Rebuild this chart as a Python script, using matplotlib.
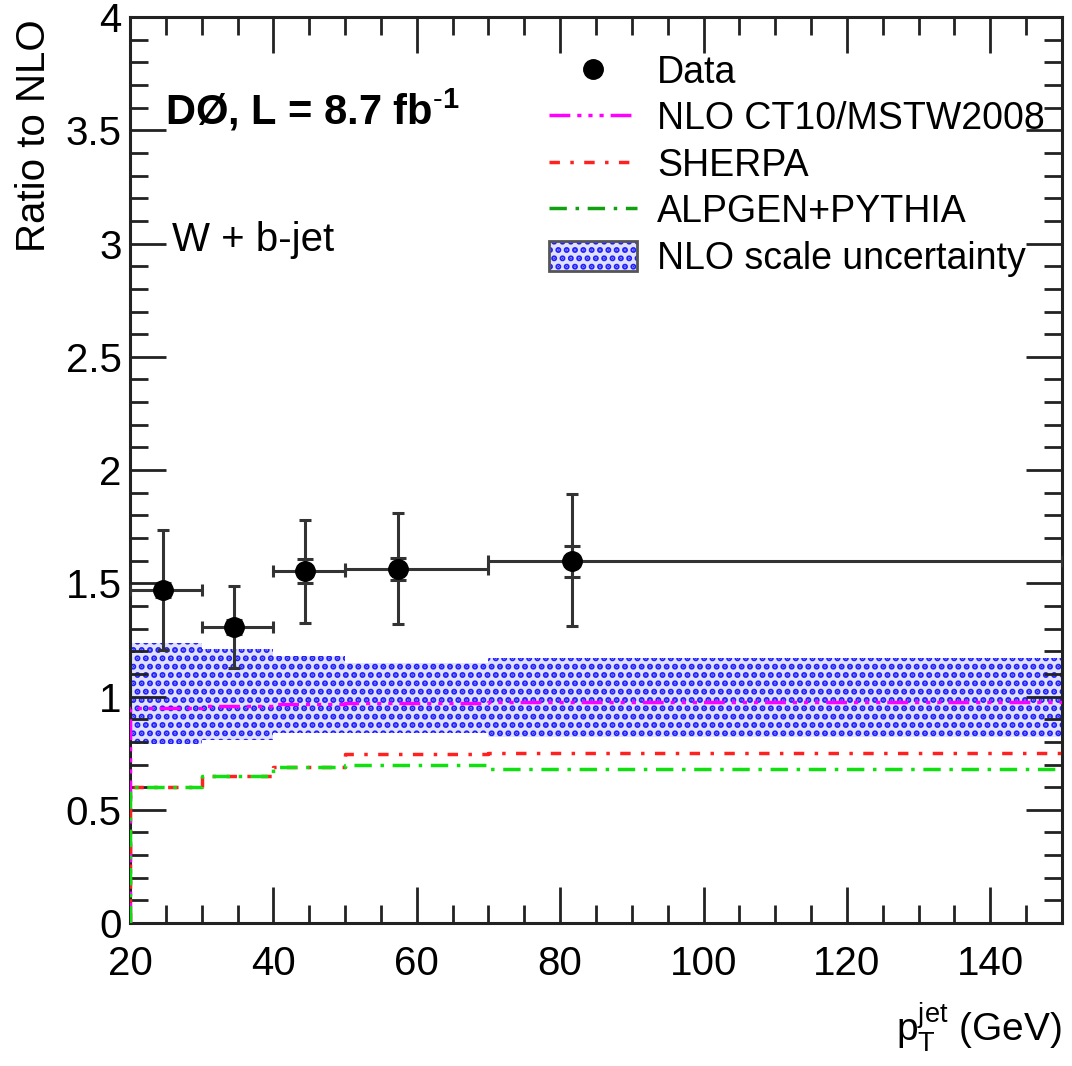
import numpy as np
import matplotlib.pyplot as plt
from matplotlib.lines import Line2D
from matplotlib.patches import Patch
from matplotlib.legend_handler import HandlerTuple
from matplotlib.ticker import MultipleLocator

plt.rcParams['font.family'] = ['Liberation Sans', 'DejaVu Sans']
plt.rcParams['mathtext.fontset'] = 'custom'
plt.rcParams['mathtext.rm'] = 'Liberation Sans'
plt.rcParams['mathtext.it'] = 'Liberation Sans:italic'
plt.rcParams['mathtext.bf'] = 'Liberation Sans:bold'
plt.rcParams['hatch.linewidth'] = 3.0

# bin edges in pT (GeV)
bin_edges = [20, 30, 40, 50, 70, 150]

# data points
data_x = [24.6, 34.5, 44.4, 57.4, 81.6]
data_y = [1.47, 1.307, 1.555, 1.563, 1.598]
data_up = [1.735, 1.49, 1.78, 1.81, 1.894]
data_dn = [1.205, 1.125, 1.325, 1.32, 1.31]
data_stat = [0.03, 0.03, 0.053, 0.05, 0.068]

# theory curves (per bin)
nlo = [0.95, 0.96, 0.965, 0.97, 0.975]
sherpa = [0.60, 0.65, 0.69, 0.745, 0.75]
alpgen = [0.60, 0.65, 0.69, 0.70, 0.68]
band_lo = [0.79, 0.81, 0.84, 0.84, 0.82]
band_hi = [1.236, 1.21, 1.18, 1.15, 1.17]


def step_xy(edges, vals):
    # ROOT-like histogram outline starting from zero at the first edge
    xs = [edges[0]]
    ys = [0.0]
    for i, v in enumerate(vals):
        xs += [edges[i], edges[i + 1]]
        ys += [v, v]
    return xs, ys


band_face = '#e0e0ff'
band_dots = '#1e1eff'

fig = plt.figure(figsize=(10.72, 10.66), dpi=100)
ax = fig.add_axes([0.1213, 0.1341, 0.8694, 0.8499])

# NLO scale uncertainty band
for i in range(len(band_lo)):
    ax.fill_between([bin_edges[i], bin_edges[i + 1]], band_lo[i], band_hi[i],
                    facecolor=band_face, edgecolor=band_dots, hatch='..',
                    linewidth=0, zorder=1)

nlo_dash = (0, (6, 2, 1.2, 2, 1.2, 2, 1.2, 2))
sherpa_dash = (0, (3, 3, 1, 3))
alpgen_dash = (0, (5, 2.5, 1, 2.5))

xs, ys = step_xy(bin_edges, nlo)
ax.plot(xs, ys, color='#ff00ff', lw=2.5, linestyle=nlo_dash, zorder=3)
xs, ys = step_xy(bin_edges, sherpa)
ax.plot(xs, ys, color='#ff2020', lw=2.5, linestyle=sherpa_dash, zorder=3)
xs, ys = step_xy(bin_edges, alpgen)
ax.plot(xs, ys, color='#10e010', lw=2.5, linestyle=alpgen_dash, zorder=3)

# data with total and stat errors
xlo = np.array(data_x) - np.array(bin_edges[:-1])
xhi = np.array(bin_edges[1:]) - np.array(data_x)
yerr = [np.array(data_y) - np.array(data_dn), np.array(data_up) - np.array(data_y)]
ax.errorbar(data_x, data_y, xerr=[xlo, xhi], yerr=yerr, fmt='o', color='black',
            ecolor='#333333', markersize=14, elinewidth=2.2, capsize=4, capthick=2.2,
            zorder=5)
ax.errorbar(data_x, data_y, yerr=data_stat, fmt='none', ecolor='#333333',
            elinewidth=2.2, capsize=6, capthick=2.2, zorder=5)

ax.set_xlim(20, 150)
ax.set_ylim(0, 4)

ax.xaxis.set_major_locator(MultipleLocator(20))
ax.xaxis.set_minor_locator(MultipleLocator(5))
ax.yaxis.set_major_locator(MultipleLocator(0.5))
ax.yaxis.set_minor_locator(MultipleLocator(0.1))
ax.yaxis.set_major_formatter(plt.FuncFormatter(lambda v, p: f'{v:g}'))

ax.tick_params(which='both', direction='in', top=True, right=True,
               width=2, color='#222222', labelsize=29)
ax.tick_params(which='major', length=26)
ax.tick_params(which='minor', length=13)
ax.tick_params(axis='x', pad=16)
ax.tick_params(axis='y', pad=6)
for sp in ax.spines.values():
    sp.set_linewidth(2.2)
    sp.set_color('#222222')

ax.set_ylabel('Ratio to NLO', fontsize=29, loc='top')
ax.yaxis.set_label_coords(-0.083, 0.997)
ax.set_xlabel(r'$\mathregular{p_{T}^{jet}}$ (GeV)', fontsize=28, loc='right')
ax.xaxis.set_label_coords(1.0, -0.085)

ax.text(0.038, 0.897, r'DØ, L = 8.7 fb$^{\text{-}\mathbf{1}}$', transform=ax.transAxes,
        fontsize=30, fontweight='bold', ha='left', va='center')
ax.text(0.045, 0.754, 'W + b-jet', transform=ax.transAxes,
        fontsize=29, ha='left', va='center')

band_handle = (Patch(facecolor=band_face, edgecolor=band_dots, hatch='..', linewidth=0),
               Patch(facecolor='none', edgecolor='#555555', linewidth=2))
handles = [
    Line2D([], [], marker='o', color='black', linestyle='none', markersize=14),
    Line2D([], [], color='#ff00ff', lw=2.5, linestyle=nlo_dash),
    Line2D([], [], color='#ff2020', lw=2.5, linestyle=sherpa_dash),
    Line2D([], [], color='#10a010', lw=2.5, linestyle=alpgen_dash),
    band_handle,
]
labels = ['Data', 'NLO CT10/MSTW2008', 'SHERPA', 'ALPGEN+PYTHIA',
          'NLO scale uncertainty']
ax.legend(handles, labels, loc='upper left', bbox_to_anchor=(0.433, 0.975),
          frameon=False, fontsize=27, handlelength=2.37, handletextpad=0.53,
          handleheight=0.85, labelspacing=0.28, borderaxespad=0,
          handler_map={tuple: HandlerTuple(ndivide=1, pad=0)})

fig.savefig('out.png', dpi=100)
